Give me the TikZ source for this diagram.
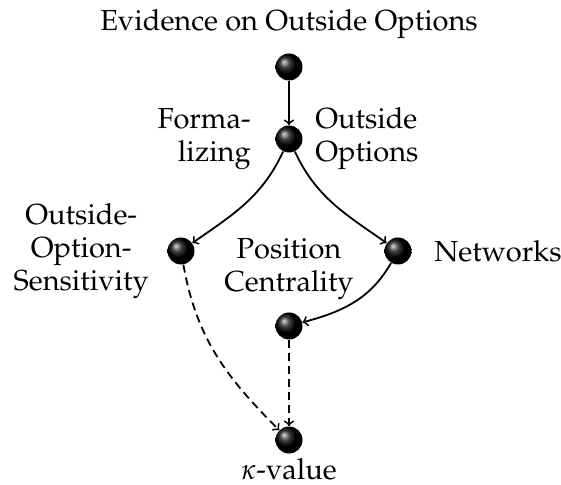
\documentclass[tikz,border=0pt]{standalone}
\usepackage[T1]{fontenc}
\usepackage{mathpazo}
\usepackage{tikz}
\usetikzlibrary{positioning}

\begin{document}
\begin{tikzpicture}[x=0.5pt, y=0.5pt,
        dot/.style={circle, shading=ball, ball color=black, minimum size=13.5pt, inner sep=0pt},
        txt/.style={font=\fontsize{14.5}{16.5}\selectfont, align=center, inner sep=2pt},
        arrow/.style={->, line width=0.9pt},
        dasharrow/.style={arrow, dash pattern=on 4pt off 2.5pt}]

        \useasboundingbox (0,0) rectangle (561,-485);

        % Puntos
        \node[dot] (evid) at (289,-67) {};
        \node[dot] (outopt) at (289,-139) {};
        \node[dot] (sens) at (181,-251) {};
        \node[dot] (netw) at (398,-251) {};
        \node[dot] (posc) at (289,-326) {};
        \node[dot] (kappa) at (289,-440) {};

        % Etiquetas
        \node[txt, above=5pt of evid] (evid_t) {Evidence on Outside Options};
        \node[txt, left=10pt of outopt, align=right] (form_t) {Forma-\\lizing};
        \node[txt, right=4pt of outopt, align=left] (outopt_t) {Outside\\Options};
        \node[txt, left=7pt of sens] (sens_t) {Outside-\\Option-\\Sensitivity};
        \node[txt, right=9pt of netw] (netw_t) {Networks};
        \node[txt, above=4pt of posc] (posc_t) {Position\\Centrality};
        \node[txt, inner sep=0.5pt, below=1.5pt of kappa] (kappa_t) {$\kappa$-value};

        % Flechas
        \draw[arrow] (evid) -- (outopt);
        \draw[arrow] (outopt) to[out=-115, in=35] (sens);
        \draw[arrow] (outopt) to[out=-65, in=145] (netw);
        \draw[arrow] (netw) to[out=-120, in=15] (posc);

        % Flechas discontinuas hacia kappa
        \draw[dasharrow] (sens) to[out=-80, in=135] (kappa);
        \draw[dasharrow] (posc) -- (kappa);

    \end{tikzpicture}
\end{document}
